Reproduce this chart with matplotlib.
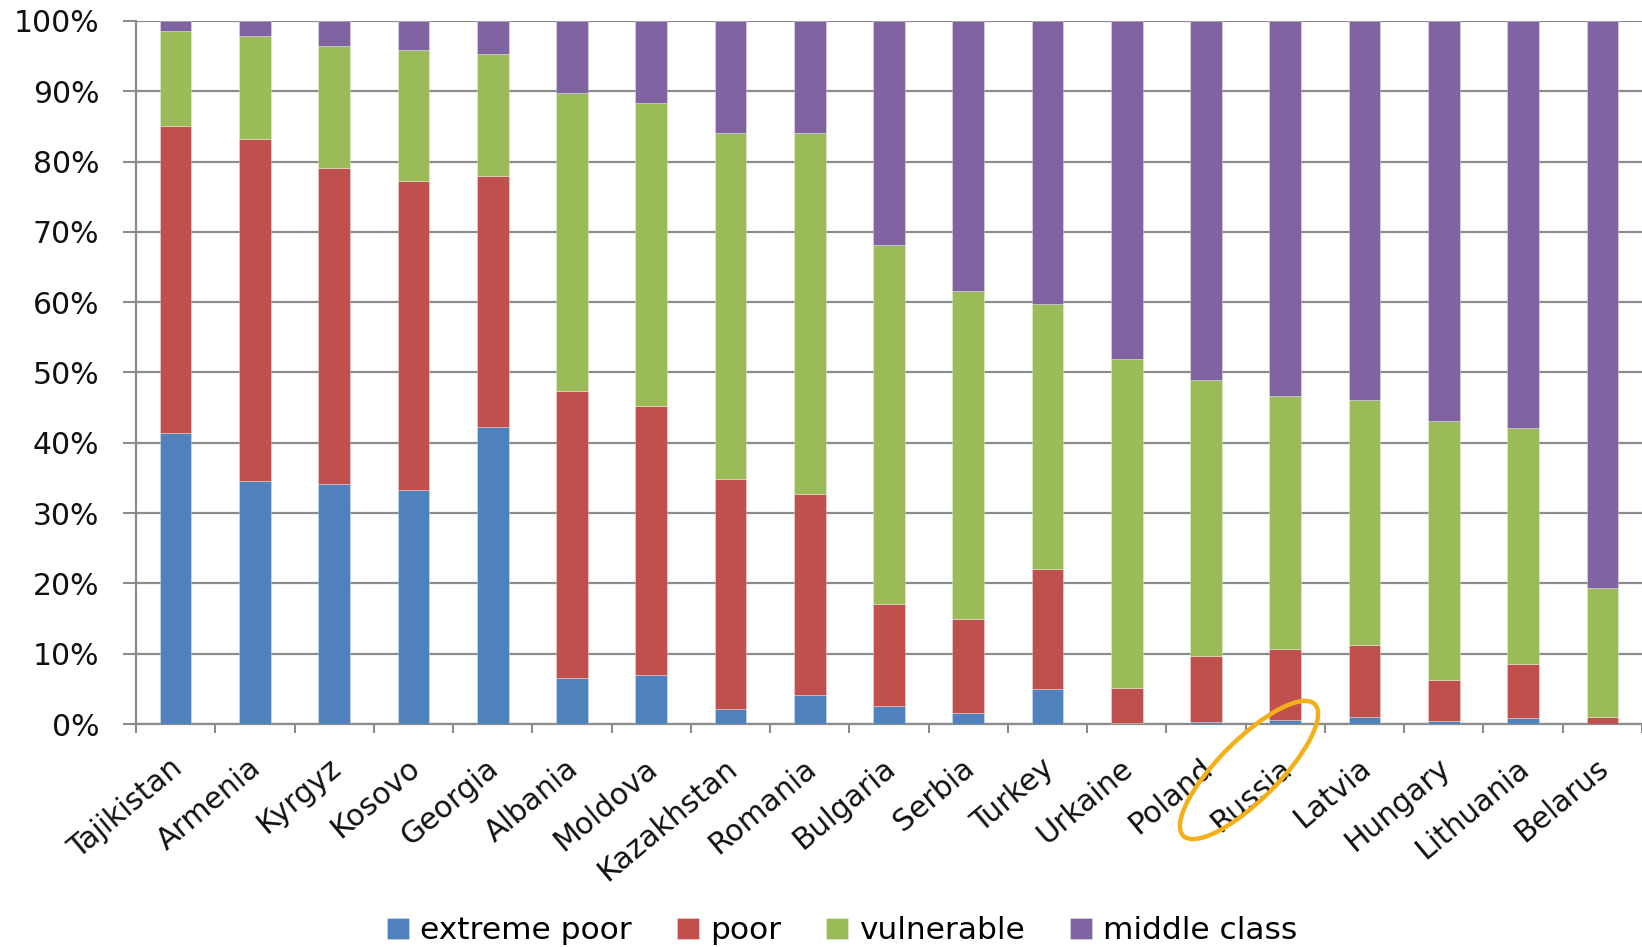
import numpy as np
import matplotlib
matplotlib.use("Agg")
import matplotlib.pyplot as plt
from matplotlib.patches import Ellipse
from matplotlib.transforms import IdentityTransform, blended_transform_factory

plt.rcParams['font.family'] = ['DejaVu Sans']

countries = ["Tajikistan", "Armenia", "Kyrgyz", "Kosovo", "Georgia", "Albania",
             "Moldova", "Kazakhstan", "Romania", "Bulgaria", "Serbia", "Turkey",
             "Urkaine", "Poland", "Russia", "Latvia", "Hungary", "Lithuania", "Belarus"]

# shares of population by class (%)
extreme_poor = [41.4, 34.6, 34.2, 33.3, 42.3, 6.5, 7.0, 2.2, 4.1, 2.6, 1.6, 5.0,
                0.1, 0.3, 0.6, 1.0, 0.4, 0.9, 0.0]
poor = [43.6, 48.6, 44.9, 44.0, 35.6, 40.8, 38.2, 32.7, 28.6, 14.5, 13.3, 17.1,
        5.0, 9.4, 10.1, 10.2, 5.9, 7.7, 1.0]
vulnerable = [13.6, 14.7, 17.4, 18.6, 17.4, 42.4, 43.1, 49.2, 51.3, 51.1, 46.7, 37.6,
              46.8, 39.3, 35.9, 34.9, 36.8, 33.5, 18.3]
middle_class = [1.4, 2.1, 3.5, 4.1, 4.7, 10.3, 11.7, 15.9, 16.0, 31.8, 38.4, 40.3,
                48.1, 51.0, 53.4, 53.9, 56.9, 57.9, 80.7]

series = [("extreme poor", extreme_poor, "#4F81BD"),
          ("poor", poor, "#C0504D"),
          ("vulnerable", vulnerable, "#9BBB59"),
          ("middle class", middle_class, "#8064A2")]

W, H = 1642, 947
fig = plt.figure(figsize=(W / 100, H / 100), dpi=100)
ax = fig.add_axes([136 / W, 1 - 724 / H, 1 - 136 / W, (724 - 21) / H])

x = np.arange(len(countries))
bottom = np.zeros(len(countries))
handles = []
for name, vals, color in series:
    vals = np.asarray(vals, dtype=float)
    b = ax.bar(x, vals, 0.4, bottom=bottom, color=color, label=name,
               edgecolor=(1, 1, 1, 0.35), linewidth=0.6, zorder=3)
    handles.append(b)
    bottom += vals

grid_col = "#8C8C8C"
ax.set_xlim(-0.5, len(countries) - 0.5)
ax.set_ylim(0, 100)
ax.set_yticks(np.arange(0, 101, 10))
ax.set_yticklabels([f"{v}%" for v in range(0, 101, 10)], fontsize=21.5)
ax.yaxis.grid(True, color=grid_col, linewidth=1.6, zorder=0)
ax.set_axisbelow(True)

# category boundaries carry the tick marks
ax.set_xticks(np.arange(-0.5, len(countries), 1.0))
ax.set_xticklabels([])
ax.tick_params(axis='x', direction='out', length=6.5, width=1.5, color=grid_col)
ax.tick_params(axis='y', direction='out', length=9.4, width=1.5, color=grid_col,
               pad=17, labelcolor='#111111')

for side in ("top", "right"):
    ax.spines[side].set_visible(False)
for side in ("left", "bottom"):
    ax.spines[side].set_color(grid_col)
    ax.spines[side].set_linewidth(1.6)

# rotated category labels
trans = blended_transform_factory(ax.transData, ax.transAxes)
for xi, name in zip(x, countries):
    ax.text(xi + 0.1, -47 / 703, name, transform=trans, rotation=40,
            rotation_mode='anchor', ha='right', va='baseline', fontsize=21.5,
            color='#111111', clip_on=False)

fig.legend(handles=handles, labels=[s[0] for s in series], loc='center',
           bbox_to_anchor=(0.513, 0.017), ncol=4, frameon=False, fontsize=22.5,
           handlelength=0.7, handleheight=0.7, handletextpad=0.35,
           columnspacing=1.45, borderpad=0)

# highlight ring around Russia
fig.add_artist(Ellipse((1249, H - 770), 186, 60, angle=45, fill=False,
                       edgecolor="#F4B018", linewidth=3.2,
                       transform=IdentityTransform(), zorder=10))

fig.savefig("out.png", dpi=100)
